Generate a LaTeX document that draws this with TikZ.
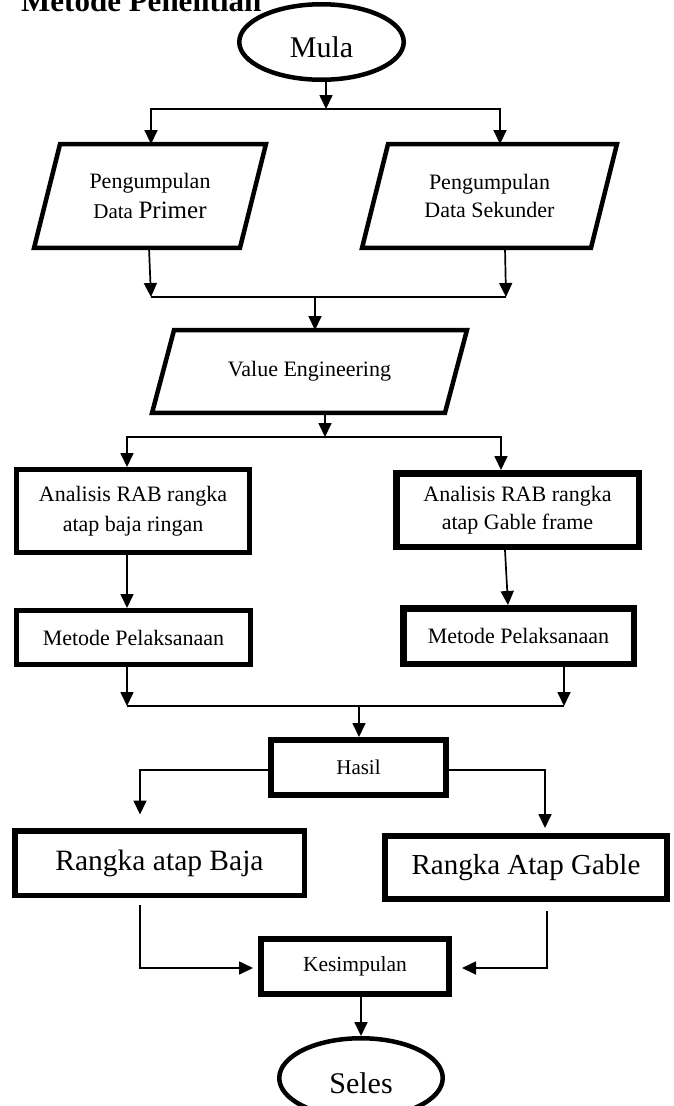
\documentclass[tikz,border=0pt]{standalone}
\usepackage{fontspec}
\setmainfont{Liberation Serif}
\usetikzlibrary{arrows.meta,shapes.geometric,calc}
\begin{document}
\begin{tikzpicture}[x=1pt,y=-1pt,
  ln/.style={line width=1.7pt},
  arr/.style={ln,-{Triangle[width=13pt,length=14pt]}},
  txt/.style={font=\fontsize{22}{30}\selectfont, align=center, inner sep=0pt},
  boxA/.style={draw, rectangle, txt, line width=5pt},
  boxB/.style={draw, rectangle, txt, line width=6.5pt},
  ell/.style={draw, ellipse, line width=4.5pt, inner sep=0pt, font=\fontsize{30}{36}\selectfont, text height=30pt, text depth=0pt},
  para/.style={line width=4.5pt, line join=miter}
]
\path[use as bounding box] (0,0) rectangle (674,1106);
\clip (0,0) rectangle (674,1106);

% title
\node[anchor=base west, font=\bfseries\fontsize{31}{36}\selectfont, inner sep=0pt] (title) at (21,11) {Metode Penelitian};

% nodes
\node[ell, minimum width=164.5pt, minimum height=75.5pt] (mula) at (321.5,42) {Mula};

\node[txt, minimum width=231.5pt, minimum height=103.5pt] (p1) at (150,196)
  {Pengumpulan\\{\fontsize{21}{30}\selectfont Data} {\fontsize{25}{30}\selectfont Primer}};
\draw[para] ([xshift=26pt]p1.north west) -- (p1.north east) -- ([xshift=-26pt]p1.south east) -- (p1.south west) -- cycle;

\node[txt, minimum width=254.5pt, minimum height=103.5pt, font=\fontsize{22}{28}\selectfont] (p2) at (489.5,196)
  {Pengumpulan\\Data Sekunder};
\draw[para] ([xshift=26pt]p2.north west) -- (p2.north east) -- ([xshift=-26pt]p2.south east) -- (p2.south west) -- cycle;

\node[txt, minimum width=314.5pt, minimum height=82.5pt] (ve) at (309.5,371.5) {Value Engineering};
\draw[para] ([xshift=22pt]ve.north west) -- (ve.north east) -- ([xshift=-22pt]ve.south east) -- (ve.south west) -- cycle;

\node[boxA, minimum width=233pt, minimum height=83pt] (a1) at (133,511) {Analisis RAB rangka\\atap baja ringan};
\node[boxB, minimum width=242.5pt, minimum height=73.5pt, font=\fontsize{22}{28}\selectfont] (a2) at (517.5,510) {Analisis RAB rangka\\atap Gable frame};

\node[boxA, minimum width=234pt, minimum height=54pt] (m1) at (133.5,637.5) {Metode Pelaksanaan};
\node[boxB, minimum width=230.5pt, minimum height=55.5pt] (m2) at (518.5,636) {Metode Pelaksanaan};

\node[boxA, line width=6pt, minimum width=175pt, minimum height=55pt, font=\fontsize{21}{26}\selectfont] (hasil) at (358.5,767.5) {Hasil};

\node[boxA, line width=5.5pt, minimum width=289.5pt, minimum height=64.5pt, font=\fontsize{29.5}{34}\selectfont] (b1) at (159.5,863) {Rangka atap Baja};
\node[boxA, line width=6pt, minimum width=282pt, minimum height=63pt, font=\fontsize{29}{34}\selectfont] (b2) at (526,867.5) {Rangka Atap Gable};

\node[boxA, line width=6pt, minimum width=188pt, minimum height=55pt, font=\fontsize{21.5}{26}\selectfont] (kes) at (355,966.5) {Kesimpulan};

\node[ell, minimum width=163.5pt, minimum height=79.5pt] (seles) at (361,1078) {Seles};

% junction coordinates
\coordinate (j1) at (326,109);
\coordinate (j2l) at (151,297);
\coordinate (j2r) at (506,297);
\coordinate (j2) at (315,297);
\coordinate (j3) at (325,437);
\coordinate (j4l) at (127,706);
\coordinate (j4r) at (564,706);
\coordinate (j4) at (359,706);

% connectors
\draw[arr] (mula.south -| j1) -- (j1);
\draw[arr] (j1) -| ([xshift=1pt]p1.north);
\draw[arr] (j1) -| ([xshift=10.5pt]p2.north);

\draw[arr] ([xshift=-1pt]p1.south) -- (j2l);
\draw[arr] ([xshift=15.5pt]p2.south) -- (j2r);
\draw[ln] (j2l) -- (j2r);
\draw[arr] (j2) -- (j2 |- ve.north);

\draw[arr] (ve.south -| j3) -- (j3);
\draw[arr] (j3) -| ([xshift=-6pt]a1.north);
\draw[arr] (j3) -| ([xshift=-16.5pt]a2.north);

\draw[arr] ([xshift=-6pt]a1.south) -- ([xshift=-6.5pt]m1.north);
\draw[arr] ([xshift=-12.5pt]a2.south) -- ([xshift=-10.5pt]m2.north);

\draw[arr] ([xshift=-6.5pt]m1.south) -- (j4l);
\draw[arr] ([xshift=45.5pt]m2.south) -- (j4r);
\draw[ln] (j4l) -- (j4r);
\draw[arr] (j4) -- (j4 |- hasil.north);

\draw[arr, shorten >=13.5pt] ([yshift=-2.5pt]hasil.west) -| ([xshift=-19.5pt]b1.north);
\draw[arr, shorten >=5pt] ([yshift=-2.5pt]hasil.east) -| ([xshift=19pt]b2.north);

\draw[arr, shorten >=5pt] ([xshift=-19.5pt,yshift=-6.75pt]b1.south) |- ([yshift=-1.5pt]kes.west);
\draw[arr, shorten >=10pt] ([xshift=21pt,yshift=-9pt]b2.south) |- ([yshift=-1.5pt]kes.east);

\draw[arr] ([xshift=6pt]kes.south) -- (seles.north);
\end{tikzpicture}
\end{document}
